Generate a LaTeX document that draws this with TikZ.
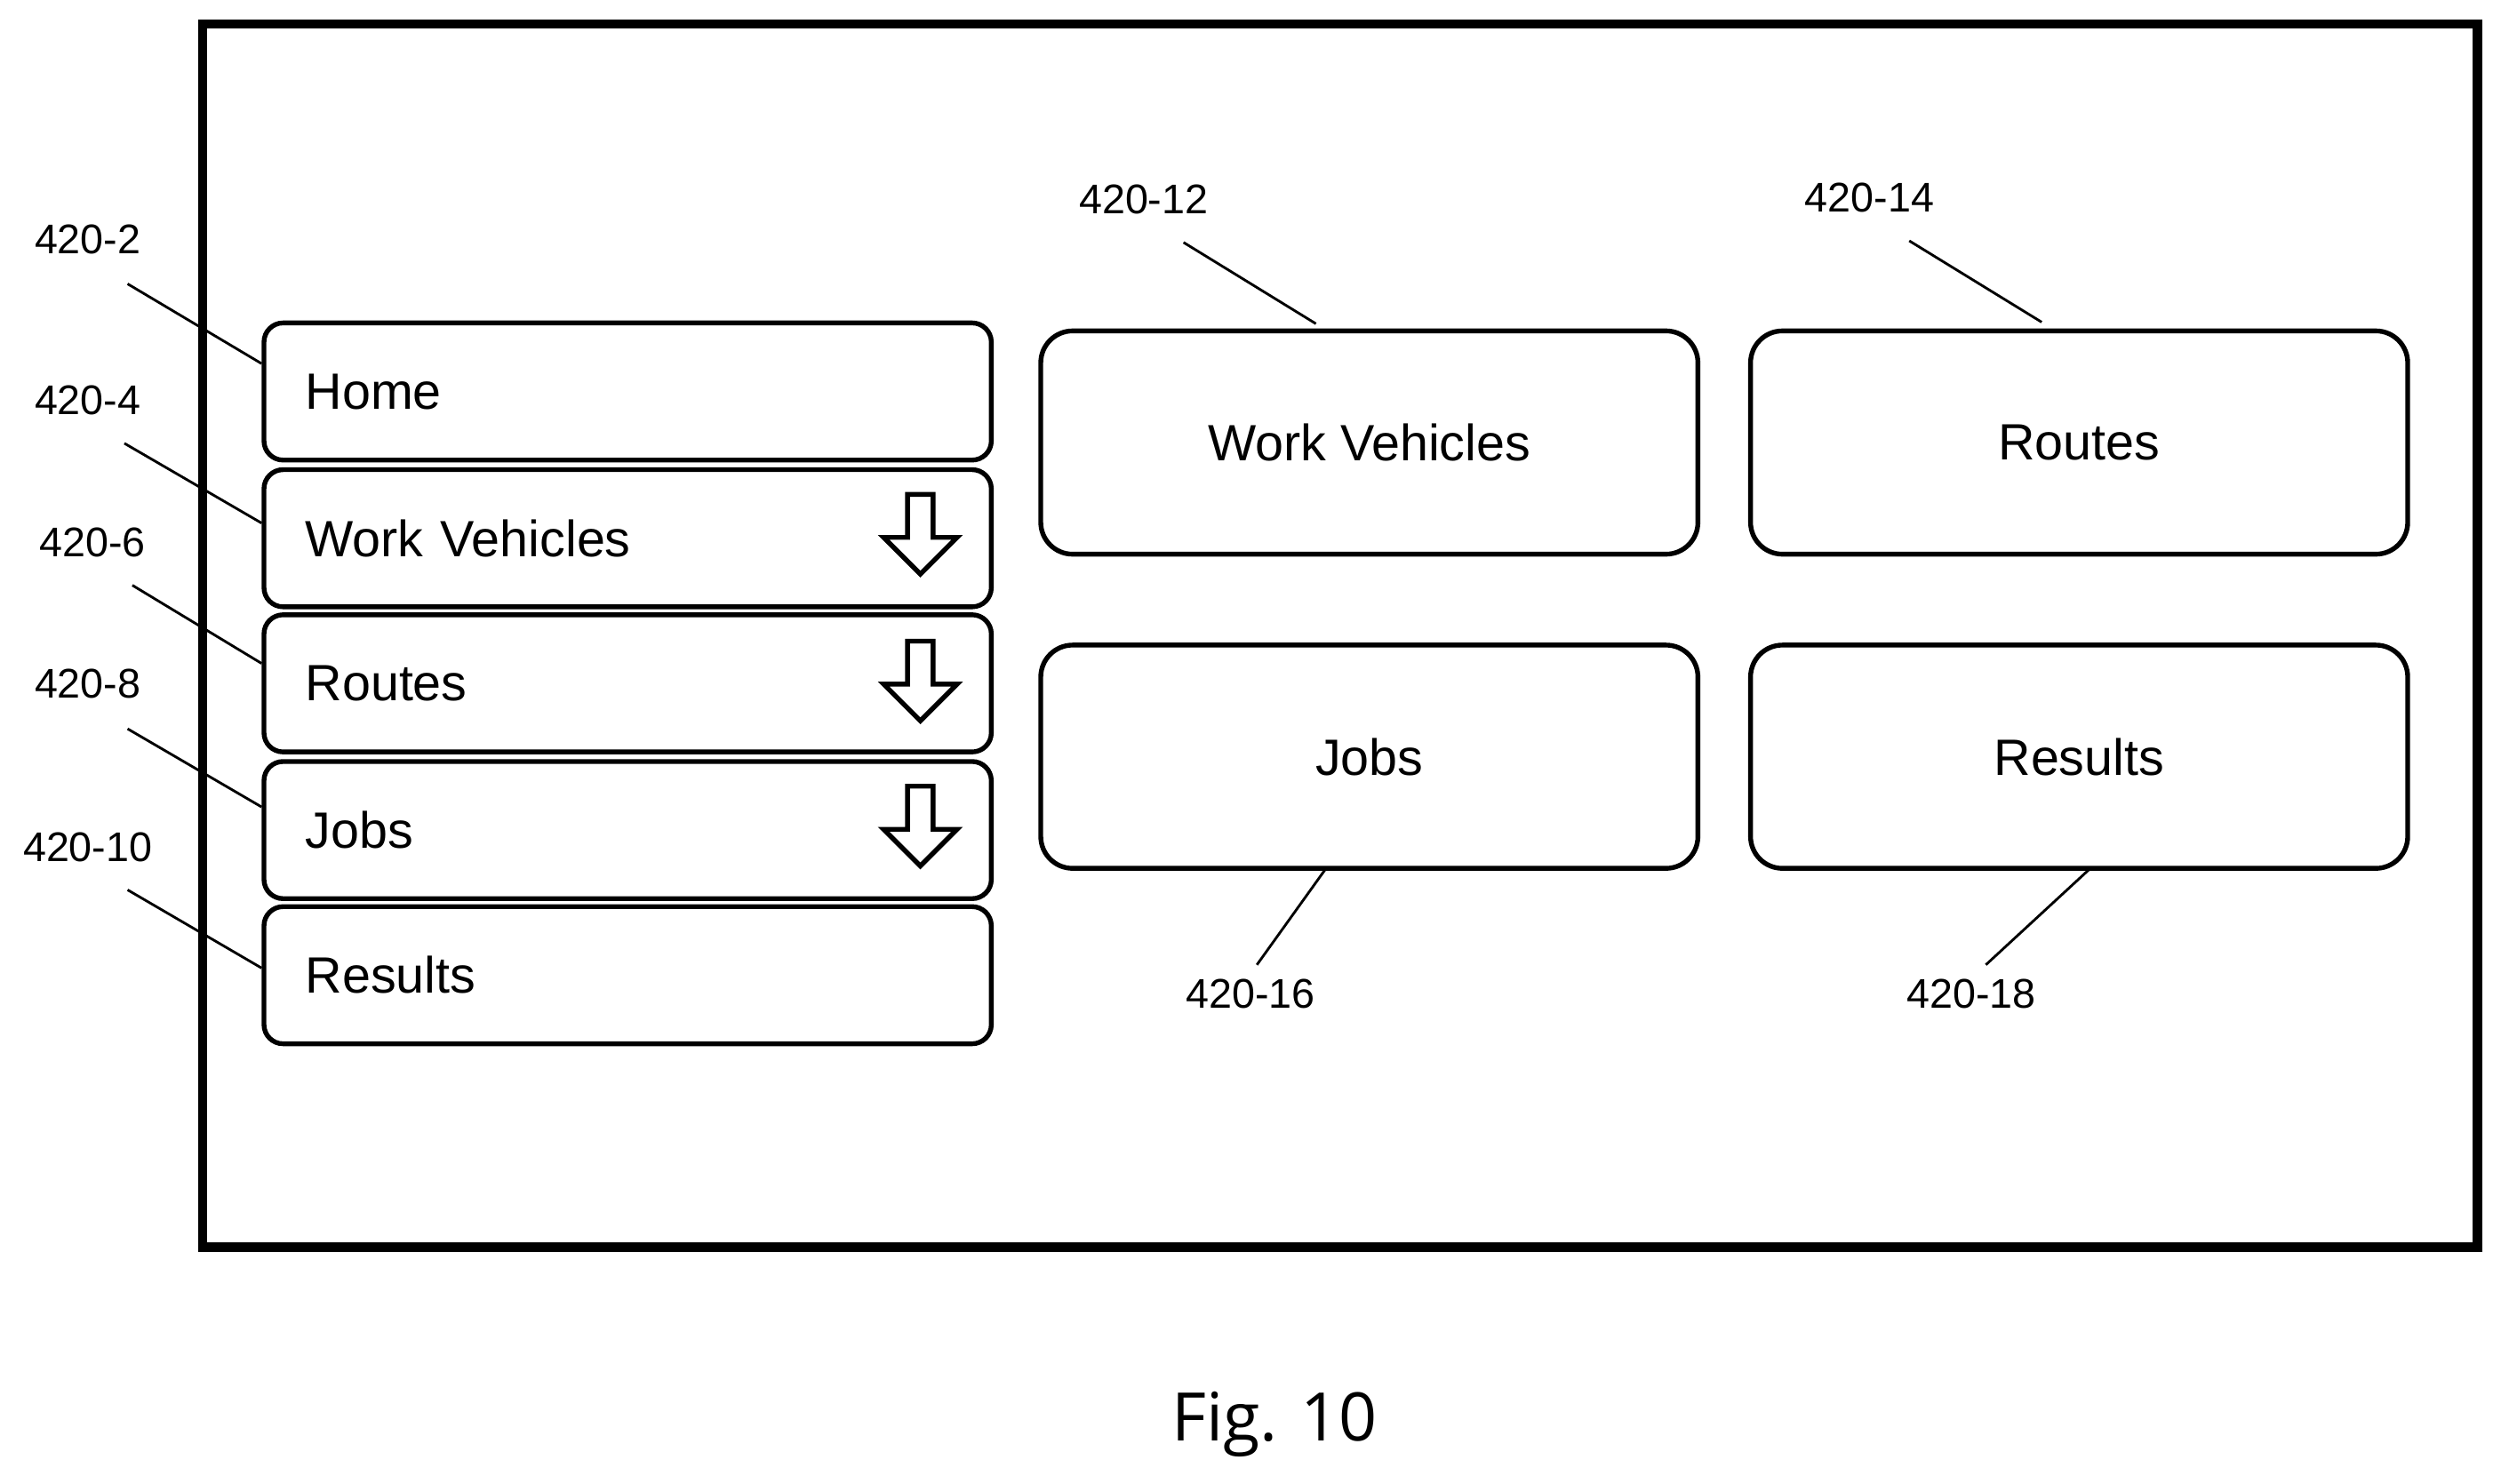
\documentclass[tikz,border=0pt]{standalone}
\usepackage{fontspec}
\setmainfont{Liberation Sans}
\newfontfamily\figfont{Open Sans}
\begin{document}
\begin{tikzpicture}[x=0.5pt,y=0.5pt,yscale=-1,xscale=1,
  menubox/.style={draw, line width=1.5pt, rounded corners=6pt, minimum height=43pt,
    text width=202pt, inner xsep=13pt, align=left, font=\fontsize{16}{19}\selectfont, anchor=north west},
  tilebox/.style={draw, line width=1.5pt, rounded corners=10pt, minimum width=206pt,
    minimum height=70pt, font=\fontsize{16}{19}\selectfont, anchor=north west},
  reflabel/.style={font=\fontsize{13}{15}\selectfont},
  leader/.style={line width=0.8pt},
  downarrow/.style={draw, line width=1.5pt, fill=white}]

\useasboundingbox (0,0) rectangle (1568,930);

% outer screen frame
\draw [line width=3pt] (127,15) rectangle (1553,782);

% menu on the left
\node [menubox] (home) at (164,201) {Home};
\node [menubox] (vehicles) at (164,293) {Work Vehicles};
\node [menubox] (routes) at (164,384) {Routes};
\node [menubox] (jobs) at (164,476) {Jobs};
\node [menubox] (results) at (164,567) {Results};

% open arrows on the drop-down entries
\foreach \y in {310,402,493} {
  \draw [downarrow] (569,\y) -- (585,\y) -- (585,\y+27) -- (600,\y+27) -- (577,\y+50)
    -- (554,\y+27) -- (569,\y+27) -- cycle;
}

% tiles on the right
\node [tilebox] (tvehicles) at (651,206) {Work Vehicles};
\node [tilebox] (troutes) at (1096,206) {Routes};
\node [tilebox] (tjobs) at (651,403) {Jobs};
\node [tilebox] (tresults) at (1096,403) {Results};

% reference labels
\node [reflabel] (l2) at (55,150) {420-2};
\node [reflabel] (l4) at (55,251) {420-4};
\node [reflabel] (l6) at (58,340) {420-6};
\node [reflabel] (l8) at (55,429) {420-8};
\node [reflabel] (l10) at (55,531) {420-10};
\node [reflabel] (l12) at (717,125) {420-12};
\node [reflabel] (l14) at (1172,124) {420-14};
\node [reflabel] (l16) at (784,623) {420-16};
\node [reflabel] (l18) at (1236,623) {420-18};

\coordinate (p2) at (164,228);
\coordinate (p4) at (164,328);
\coordinate (p6) at (164,416);
\coordinate (p8) at (164,506);
\coordinate (p10) at (164,607);
\coordinate (p12) at (825,203);
\coordinate (p14) at (1280,202);
\coordinate (p16) at (831,545);
\coordinate (p18) at (1310,545);

\draw [leader] (80,178) -- (p2);
\draw [leader] (78,278) -- (p4);
\draw [leader] (83,367) -- (p6);
\draw [leader] (80,457) -- (p8);
\draw [leader] (80,558) -- (p10);
\draw [leader] (742,152) -- (p12);
\draw [leader] (1197,151) -- (p14);
\draw [leader] (788,605) -- (p16);
\draw [leader] (1245,605) -- (p18);

\node [font=\figfont\fontsize{21}{25}\selectfont] (fig) at (799,893) {Fig. 10};

\end{tikzpicture}
\end{document}
